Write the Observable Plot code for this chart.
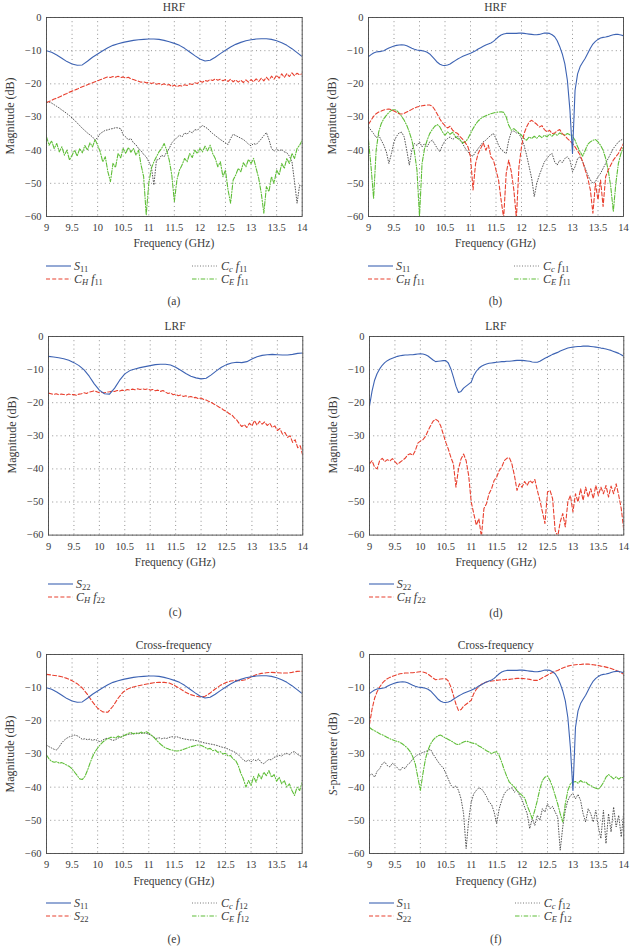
<!DOCTYPE html>
<html><head><meta charset="utf-8">
<script src="https://cdn.jsdelivr.net/npm/d3@7"></script>
<script src="https://cdn.jsdelivr.net/npm/@observablehq/plot@0.6"></script>
<style>
body{margin:0;background:#fff;}
#page{position:relative;width:636px;height:946px;overflow:hidden;background:#fff;font-family:"Liberation Serif","Times New Roman",serif;color:#3a3a3a;}
.abs{position:absolute;white-space:nowrap;line-height:1;}
.ctr{font-size:11.5px;transform:translate(-50%,-50%);}
.yl{font-size:12px;transform:translate(-50%,-50%) rotate(-90deg);}
.lg{font-size:12px;transform:translateY(-50%);}
sub{font-size:8.5px;vertical-align:-2px;line-height:0;}
</style></head><body><div id="page"></div>
<script>
// ---------- axes ----------
const xTicks = [9, 9.5, 10, 10.5, 11, 11.5, 12, 12.5, 13, 13.5, 14];
const yTicks = [0, -10, -20, -30, -40, -50, -60];
// sampling grids (GHz)
const freq10 = d3.range(51).map(i => +(9 + i * 0.1).toFixed(2));
const freq20 = d3.range(101).map(i => +(9 + i * 0.05).toFixed(2));

// ---------- (a) HRF ----------
const s11A = [-10.0,-10.5,-11.3,-12.3,-13.3, -14.0,-14.4,-14.3,-13.2,-12.0,
 -11.0,-10.0,-9.1,-8.4,-7.9, -7.5,-7.2,-6.9,-6.7,-6.6,
 -6.5,-6.5,-6.6,-6.9,-7.3, -7.8,-8.4,-9.3,-10.4,-11.5,
 -12.5,-13.1,-12.9,-12.0,-10.9, -9.9,-8.9,-8.1,-7.5,-7.0,
 -6.7,-6.5,-6.4,-6.4,-6.6, -7.0,-7.6,-8.4,-9.4,-10.6, -11.8];
const chf11A = [-25.6,-25.3,-25.0,-24.6,-24.3,-24.0,-23.6,-23.2,-22.9,-22.5,
 -22.2,-21.9,-21.6,-21.2,-20.9,-20.6,-20.3,-20.0,-19.7,-19.4,
 -19.1,-18.8,-18.5,-18.2,-17.9,-18.1,-17.8,-18.0,-17.7,-18.1,
 -17.9,-18.3,-18.0,-18.5,-18.7,-19.0,-19.2,-19.5,-19.4,-19.7,
 -19.6,-19.9,-19.7,-20.1,-19.9,-20.3,-20.0,-20.4,-20.2,-20.8,
 -20.4,-20.9,-20.5,-20.7,-20.3,-20.5,-20.0,-20.2,-19.7,-19.9,
 -19.2,-19.5,-19.0,-19.2,-18.7,-19.0,-18.5,-18.9,-18.6,-19.1,
 -18.7,-19.3,-18.6,-19.4,-18.8,-19.5,-18.9,-19.6,-18.8,-19.5,
 -18.7,-19.4,-18.5,-19.3,-18.3,-19.1,-18.0,-18.9,-17.7,-18.6,
 -17.4,-18.3,-17.0,-18.1,-16.9,-17.8,-16.7,-17.6,-16.8,-17.3, -17.0];
const ccf11A = [-25.6,-25.5,-25.8,-26.3,-26.8,-27.3,-27.9,-28.4,-29.0,-29.6,
 -30.3,-31.0,-31.8,-32.6,-33.4,-34.1,-34.8,-35.4,-36.0,-37.0,
 -36.2,-35.0,-34.5,-34.0,-33.9,-33.6,-33.5,-33.2,-33.3,-33.5,
 -35.4,-36.0,-36.9,-36.5,-37.8,-38.4,-39.5,-40.2,-41.3,-42.0,
 -43.5,-45.0,-50.5,-43.0,-42.8,-41.5,-42.0,-40.6,-39.5,-37.8,
 -37.0,-36.2,-35.5,-36.0,-34.8,-35.2,-34.3,-34.8,-33.8,-34.0,
 -33.2,-32.6,-33.0,-33.5,-34.3,-35.0,-35.6,-36.2,-36.8,-37.3,
 -37.8,-38.3,-36.5,-35.2,-35.6,-36.0,-36.4,-36.8,-37.4,-38.2,
 -38.7,-38.0,-38.3,-37.5,-36.6,-35.6,-34.7,-36.8,-39.5,-40.3,
 -39.6,-40.2,-39.8,-40.5,-40.8,-41.8,-43.5,-49.5,-56.0,-50.5, -51.0];
const cef11A = [-36.0,-38.5,-37.2,-39.5,-38.0,-40.5,-39.0,-41.5,-40.0,-43.0,
 -41.5,-40.0,-41.8,-39.5,-40.8,-38.6,-40.0,-37.8,-39.0,-36.8,
 -38.5,-40.5,-43.5,-42.0,-46.5,-49.5,-44.0,-45.2,-41.0,-42.3,
 -39.5,-41.0,-39.2,-40.6,-39.5,-41.5,-40.0,-44.5,-48.0,-59.5,
 -50.0,-45.5,-43.5,-42.0,-40.5,-39.5,-38.0,-40.0,-43.0,-47.5,
 -55.5,-49.0,-46.0,-44.5,-42.5,-43.5,-41.0,-42.2,-40.0,-41.0,
 -39.5,-40.5,-38.8,-40.2,-38.5,-41.0,-42.5,-45.0,-43.5,-48.0,
 -46.0,-52.0,-56.0,-49.0,-47.5,-45.5,-46.5,-43.8,-45.0,-42.8,
 -44.0,-42.5,-45.5,-48.5,-53.0,-59.0,-51.0,-52.5,-48.0,-50.0,
 -46.0,-47.5,-44.0,-45.5,-42.5,-44.0,-41.0,-42.5,-39.5,-38.5, -37.0];

// ---------- (b) HRF ----------
const s11B = [-11.8,-11.2,-10.7,-10.4,-10.3,-10.2,-10.0,-9.6,-9.2,-8.9,
 -8.6,-8.4,-8.3,-8.2,-8.3,-8.5,-8.9,-9.3,-9.6,-9.8,
 -9.9,-10.0,-10.2,-10.5,-11.0,-11.8,-12.6,-13.5,-14.1,-14.4,
 -14.5,-14.3,-14.0,-13.5,-13.0,-12.5,-12.1,-11.7,-11.4,-11.1,
 -10.8,-10.4,-10.0,-9.5,-9.1,-8.7,-8.3,-8.0,-7.7,-7.2,
 -6.5,-5.8,-5.3,-5.0,-4.8,-4.8,-4.8,-4.8,-4.8,-4.7,
 -4.7,-4.8,-4.9,-5.0,-5.1,-5.2,-5.2,-5.1,-4.9,-4.7,
 -4.7,-4.8,-5.2,-5.8,-7.0,-8.8,-11.0,-14.0,-19.0,-28.0,
 -41.0,-22.0,-17.0,-14.8,-13.5,-12.3,-10.8,-9.3,-8.0,-7.2,
 -6.6,-6.2,-6.0,-5.9,-5.7,-5.4,-5.2,-5.1,-5.1,-5.3, -5.5];
const chf11B = [-32.2,-31.0,-29.8,-29.0,-28.5,-28.2,-27.9,-27.7,-27.6,-27.8,
 -28.2,-28.6,-29.0,-29.1,-28.9,-28.5,-28.1,-27.7,-27.3,-27.0,
 -26.8,-26.6,-26.5,-26.4,-26.4,-26.7,-27.8,-29.2,-30.6,-31.8,
 -32.6,-33.3,-32.8,-34.0,-34.6,-35.0,-36.0,-36.8,-37.8,-39.0,
 -42.0,-52.0,-44.0,-41.0,-39.5,-37.8,-40.0,-38.5,-42.0,-43.0,
 -46.0,-49.0,-55.0,-60.5,-47.0,-43.0,-46.5,-52.0,-60.5,-45.0,
 -39.0,-35.0,-33.0,-31.5,-31.0,-31.6,-32.2,-33.0,-32.6,-33.8,
 -34.5,-34.0,-35.0,-34.8,-34.2,-33.8,-35.0,-35.6,-36.5,-37.2,
 -38.0,-39.0,-40.2,-41.5,-43.5,-46.0,-48.5,-52.0,-59.0,-50.0,
 -55.0,-49.0,-57.0,-48.0,-46.0,-44.5,-43.0,-42.0,-41.0,-39.5, -38.0];
const ccf11B = [-33.0,-34.0,-35.0,-36.2,-35.5,-37.0,-38.5,-40.5,-44.0,-41.0,
 -37.5,-35.8,-34.8,-34.6,-36.0,-40.0,-44.5,-40.0,-38.0,-38.6,
 -37.5,-39.0,-38.0,-39.0,-37.5,-37.0,-38.2,-39.5,-40.5,-38.5,
 -37.2,-36.5,-36.0,-36.8,-36.2,-35.8,-37.0,-38.2,-39.5,-40.5,
 -41.5,-41.8,-40.5,-39.5,-38.5,-37.5,-37.0,-36.2,-35.5,-35.0,
 -36.5,-38.5,-39.8,-40.5,-41.0,-37.0,-34.5,-34.2,-34.8,-35.0,
 -36.5,-38.5,-41.5,-45.0,-48.5,-54.0,-50.0,-47.5,-45.5,-43.5,
 -42.5,-41.5,-41.0,-43.5,-44.5,-43.0,-43.8,-42.5,-42.0,-43.0,
 -46.5,-45.0,-42.5,-42.0,-43.5,-45.5,-47.5,-49.0,-50.0,-49.5,
 -48.0,-47.0,-45.5,-44.0,-42.5,-41.0,-39.5,-38.5,-37.5,-37.0, -36.5];
const cef11B = [-37.0,-45.0,-54.5,-40.0,-34.5,-32.0,-30.5,-29.5,-28.6,-28.0,
 -27.7,-28.0,-28.8,-29.8,-31.0,-32.5,-34.5,-37.0,-40.5,-46.0,
 -60.0,-44.0,-39.5,-37.0,-35.0,-33.8,-32.8,-32.3,-33.0,-34.5,
 -35.5,-34.5,-35.2,-34.6,-35.8,-36.5,-37.0,-37.8,-37.5,-36.5,
 -35.0,-33.5,-32.2,-31.2,-30.5,-30.0,-29.6,-29.3,-29.0,-28.8,
 -28.6,-28.5,-28.4,-28.6,-30.0,-32.5,-34.0,-33.5,-34.2,-34.8,
 -35.5,-36.5,-37.0,-36.0,-36.5,-35.8,-36.4,-35.6,-36.2,-35.5,
 -36.0,-35.2,-35.8,-35.0,-35.5,-34.8,-35.2,-35.5,-35.0,-35.4,
 -35.8,-37.0,-39.0,-40.5,-41.8,-40.0,-38.2,-37.5,-37.0,-36.8,
 -37.5,-38.5,-40.0,-42.5,-46.0,-51.0,-58.5,-50.0,-44.0,-41.0, -39.0];

// ---------- (c) LRF ----------
const s22C = [-6.0,-6.2,-6.4,-6.7,-7.2, -7.9,-8.8,-10.1,-12.0,-14.3,
 -16.2,-17.3,-17.4,-15.6,-13.2, -11.3,-10.3,-9.8,-9.4,-9.1,
 -8.8,-8.5,-8.4,-8.4,-8.6, -9.3,-10.2,-11.2,-12.0,-12.5,
 -12.8,-12.6,-11.6,-10.4,-9.3, -8.5,-8.0,-7.8,-7.9,-7.6,
 -6.8,-6.1,-5.7,-5.5,-5.4, -5.5,-5.6,-5.6,-5.4,-5.1, -5.0];
const chf22C = [-17.1,-17.3,-17.5,-17.3,-17.6,-17.4,-17.5,-17.7,-17.4,-17.6,
 -17.5,-17.8,-17.4,-17.3,-17.0,-17.2,-16.8,-16.6,-16.4,-16.7,
 -17.0,-16.9,-17.0,-16.8,-16.7,-16.5,-16.6,-16.3,-16.5,-16.2,
 -16.4,-16.0,-16.2,-15.9,-16.1,-15.8,-16.0,-15.8,-16.0,-15.8,
 -16.2,-16.0,-16.4,-16.2,-16.6,-16.3,-16.8,-17.2,-17.0,-17.6,
 -17.4,-17.9,-17.7,-18.1,-17.9,-18.3,-18.1,-18.5,-18.4,-18.8,
 -18.6,-19.0,-19.2,-19.6,-19.9,-20.4,-20.8,-21.3,-21.7,-22.3,
 -22.6,-23.3,-23.6,-24.5,-25.2,-26.3,-27.2,-26.6,-27.5,-26.2,
 -27.0,-25.4,-26.8,-25.6,-26.5,-25.8,-26.9,-26.2,-27.5,-27.0,
 -28.4,-27.8,-29.5,-29.0,-30.5,-30.0,-32.0,-31.2,-33.6,-33.0, -36.0];

// ---------- (d) LRF ----------
const s22D = [-21.0,-16.5,-13.2,-11.2,-9.8,-8.7,-7.9,-7.3,-6.9,-6.6,
 -6.3,-6.0,-5.8,-5.7,-5.6,-5.6,-5.5,-5.5,-5.4,-5.3,
 -5.2,-5.3,-5.5,-5.9,-6.5,-7.1,-7.6,-7.5,-7.4,-7.3,
 -7.3,-8.0,-9.8,-12.3,-15.0,-16.9,-16.6,-15.6,-15.0,-14.4,
 -13.8,-11.8,-10.5,-9.6,-9.0,-8.6,-8.3,-8.1,-8.0,-7.9,
 -7.8,-7.7,-7.6,-7.6,-7.5,-7.5,-7.4,-7.3,-7.2,-7.2,
 -7.2,-7.3,-7.4,-7.5,-7.7,-7.8,-7.8,-7.5,-7.0,-6.6,
 -6.2,-5.8,-5.4,-5.1,-4.8,-4.4,-4.1,-3.8,-3.5,-3.3,
 -3.2,-3.1,-3.0,-3.0,-2.9,-2.9,-2.9,-3.0,-3.1,-3.2,
 -3.3,-3.5,-3.6,-3.8,-4.0,-4.2,-4.5,-4.8,-5.1,-5.5, -6.0];
const chf22D = [-38.5,-37.5,-39.5,-40.0,-37.5,-36.8,-37.8,-37.2,-37.6,-36.9,
 -37.8,-38.6,-38.0,-37.4,-36.8,-35.8,-35.4,-35.9,-34.5,-32.2,
 -31.6,-31.2,-30.2,-28.5,-27.0,-25.6,-25.0,-25.5,-27.0,-29.5,
 -32.0,-34.0,-36.5,-38.5,-45.5,-40.0,-37.0,-35.5,-37.5,-42.0,
 -50.0,-53.5,-57.0,-55.0,-60.5,-52.0,-50.5,-47.5,-46.0,-43.5,
 -42.5,-40.5,-39.5,-37.5,-36.8,-36.6,-38.5,-42.0,-46.5,-44.5,
 -45.5,-43.8,-45.0,-43.5,-44.2,-43.2,-46.5,-49.5,-53.0,-56.5,
 -47.0,-46.5,-49.0,-58.5,-60.5,-56.0,-53.5,-57.5,-50.0,-48.0,
 -53.0,-47.5,-50.0,-46.0,-49.5,-45.5,-48.5,-46.0,-49.0,-45.0,
 -48.0,-45.5,-47.5,-45.0,-48.5,-45.2,-47.5,-44.5,-48.0,-52.0, -58.5];

// ---------- (e) Cross-frequency ----------
const ccf12E = [-27.3,-27.8,-28.2,-28.6,-28.8,-27.8,-26.6,-25.8,-25.2,-24.8,
 -24.6,-24.3,-24.5,-25.0,-25.6,-25.4,-25.7,-25.5,-25.9,-25.6,
 -26.0,-26.3,-25.8,-25.4,-25.2,-25.6,-25.9,-25.7,-25.2,-24.9,
 -24.5,-24.3,-24.1,-24.0,-23.8,-23.9,-23.7,-23.8,-23.6,-23.8,
 -24.0,-24.4,-24.9,-25.3,-25.1,-25.4,-25.2,-25.3,-25.0,-24.8,
 -24.9,-24.8,-25.1,-25.3,-25.5,-25.6,-25.8,-25.7,-25.9,-26.0,
 -26.2,-26.5,-26.7,-26.8,-27.0,-27.1,-27.3,-27.5,-27.8,-28.0,
 -28.2,-28.5,-28.9,-29.2,-29.6,-30.2,-31.0,-31.8,-32.3,-31.8,
 -32.4,-31.7,-32.0,-31.5,-32.6,-32.9,-32.2,-31.6,-31.8,-31.0,
 -30.8,-30.4,-30.6,-30.0,-29.8,-30.2,-29.5,-29.3,-30.0,-30.5, -30.8];
const cef12E = [-30.3,-31.5,-32.2,-32.5,-32.3,-32.8,-32.6,-33.0,-33.4,-33.8,
 -34.5,-35.5,-36.5,-37.5,-37.7,-36.8,-35.0,-32.8,-30.8,-29.3,
 -28.2,-27.2,-26.4,-25.8,-25.4,-25.0,-24.9,-25.2,-24.6,-25.0,
 -24.6,-24.2,-23.8,-23.5,-24.0,-23.6,-23.9,-23.4,-23.8,-23.3,
 -23.7,-24.3,-25.0,-25.8,-26.6,-27.3,-27.9,-28.3,-28.6,-28.8,
 -29.0,-29.1,-29.0,-28.8,-28.5,-28.2,-27.9,-27.7,-27.5,-27.3,
 -27.3,-27.6,-28.0,-28.5,-28.3,-29.0,-28.8,-29.5,-29.3,-30.0,
 -29.8,-30.6,-30.5,-31.5,-32.0,-33.5,-35.8,-37.5,-40.0,-38.0,
 -39.5,-36.8,-38.5,-36.0,-37.5,-35.5,-36.5,-35.0,-37.0,-36.2,
 -38.2,-37.0,-39.0,-38.0,-40.0,-39.0,-41.0,-42.5,-40.0,-41.0, -38.5];

// ---------- (f) Cross-frequency ----------
const ccf12F = [-36.4,-36.0,-37.0,-35.2,-34.4,-33.0,-32.4,-33.5,-33.9,-32.8,
 -33.4,-34.2,-35.0,-34.0,-34.4,-33.2,-32.6,-31.5,-30.8,-30.2,
 -29.9,-29.5,-29.3,-28.9,-28.6,-30.0,-31.2,-32.4,-33.4,-34.2,
 -35.8,-37.6,-39.4,-40.2,-39.6,-41.0,-43.5,-48.0,-58.5,-50.0,
 -44.5,-42.0,-41.0,-40.2,-40.5,-41.5,-42.8,-44.5,-45.2,-47.5,
 -51.0,-46.5,-44.0,-42.0,-41.0,-40.5,-40.2,-41.5,-40.8,-42.5,
 -43.8,-46.0,-48.0,-52.5,-49.5,-51.5,-48.5,-50.0,-46.5,-47.5,
 -45.0,-46.5,-45.8,-47.5,-49.0,-59.0,-52.0,-47.0,-44.0,-42.5,
 -42.0,-43.5,-42.2,-44.0,-48.0,-50.5,-46.5,-48.0,-50.5,-47.0,
 -52.0,-55.5,-47.0,-57.0,-48.0,-53.5,-46.0,-52.0,-48.5,-55.0, -47.5];
const cef12F = [-22.0,-22.6,-23.0,-23.4,-23.9,-24.2,-24.6,-25.0,-25.4,-25.7,
 -26.0,-26.2,-26.5,-27.0,-27.6,-28.3,-29.3,-30.8,-33.0,-37.0,
 -41.0,-36.0,-31.5,-28.8,-27.0,-25.8,-25.0,-24.5,-24.3,-24.8,
 -25.2,-25.6,-26.0,-26.5,-27.0,-27.2,-26.8,-26.4,-26.1,-26.3,
 -26.6,-26.8,-27.0,-27.6,-28.0,-28.5,-29.0,-29.4,-29.9,-29.5,
 -29.3,-30.5,-32.5,-34.8,-36.8,-38.5,-39.2,-40.0,-41.0,-41.8,
 -42.5,-43.2,-45.5,-47.5,-49.5,-47.0,-44.0,-40.5,-38.0,-37.0,
 -36.6,-38.0,-40.0,-42.5,-45.0,-48.0,-50.5,-45.0,-41.0,-39.0,
 -38.5,-38.3,-38.8,-38.0,-38.6,-38.4,-39.2,-39.5,-40.0,-40.3,
 -40.6,-39.8,-38.6,-37.0,-36.2,-36.8,-37.5,-36.9,-37.6,-37.0, -37.2];

// ---------- styles ----------
const STY = {
  s: {stroke: "#3d63b3", strokeWidth: 1.1},
  h: {stroke: "#e8402f", strokeWidth: 1.1, strokeDasharray: "4,2.2"},
  c: {stroke: "#444", strokeWidth: 0.9, strokeDasharray: "0.8,1.9"},
  e: {stroke: "#5fbe38", strokeWidth: 1.1, strokeDasharray: "4.5,1.6,1,1.6"}
};
const LBL = {
  S11: '<i>S</i><sub>11</sub>', S22: '<i>S</i><sub>22</sub>',
  CHf11: '<i>C<sub>H</sub></i> <i>f</i><sub>11</sub>', Ccf11: '<i>C<sub>c</sub></i> <i>f</i><sub>11</sub>',
  CEf11: '<i>C<sub>E</sub></i> <i>f</i><sub>11</sub>', CHf22: '<i>C<sub>H</sub></i> <i>f</i><sub>22</sub>',
  Ccf12: '<i>C<sub>c</sub></i> <i>f</i><sub>12</sub>', CEf12: '<i>C<sub>E</sub></i> <i>f</i><sub>12</sub>'
};

const panels = [
  {l:46, t:16.7, r:301.7, b:215.7, title:"HRF", ylab:"Magnitude (dB)", cap:"(a)", capDy:86,
   series:[["c",freq20,ccf11A],["e",freq20,cef11A],["h",freq20,chf11A],["s",freq10,s11A]],
   legL:[["s","S11"],["h","CHf11"]], legR:[["c","Ccf11"],["e","CEf11"]]},
  {l:368, t:16.7, r:623, b:215.7, title:"HRF", ylab:"Magnitude (dB)", cap:"(b)", capDy:86,
   series:[["c",freq20,ccf11B],["e",freq20,cef11B],["h",freq20,chf11B],["s",freq20,s11B]],
   legL:[["s","S11"],["h","CHf11"]], legR:[["c","Ccf11"],["e","CEf11"]]},
  {l:48, t:335.7, r:302.3, b:534.3, title:"LRF", ylab:"Magnitude (dB)", cap:"(c)", capDy:79,
   series:[["h",freq20,chf22C],["s",freq10,s22C]],
   legL:[["s","S22"],["h","CHf22"]], legR:[]},
  {l:368.7, t:335.7, r:623, b:534.3, title:"LRF", ylab:"Magnitude (dB)", cap:"(d)", capDy:80,
   series:[["h",freq20,chf22D],["s",freq20,s22D]],
   legL:[["s","S22"],["h","CHf22"]], legR:[]},
  {l:46, t:654.3, r:301.7, b:853.3, title:"Cross-frequency", ylab:"Magnitude (dB)", cap:"(e)", capDy:86.5,
   series:[["c",freq20,ccf12E],["e",freq20,cef12E],["h",freq10,s22C],["s",freq10,s11A]],
   legL:[["s","S11"],["h","S22"]], legR:[["c","Ccf12"],["e","CEf12"]]},
  {l:368.7, t:654.3, r:623, b:853.3, title:"Cross-frequency", ylab:'<i>S</i>-parameter (dB)', cap:"(f)", capDy:86.5,
   series:[["c",freq20,ccf12F],["e",freq20,cef12F],["h",freq20,s22D],["s",freq20,s11B]],
   legL:[["s","S11"],["h","S22"]], legR:[["c","Ccf12"],["e","CEf12"]]}
];

const page = document.getElementById("page");
function addDiv(cls, x, y, html) {
  const d = document.createElement("div");
  d.className = "abs " + cls;
  d.style.left = x + "px"; d.style.top = y + "px";
  d.innerHTML = html;
  page.appendChild(d);
  return d;
}
function sample(k, x, y, w) {
  const ns = "http://www.w3.org/2000/svg";
  const svg = document.createElementNS(ns, "svg");
  svg.setAttribute("width", w); svg.setAttribute("height", 6);
  svg.style.position = "absolute"; svg.style.left = x + "px"; svg.style.top = (y - 3) + "px";
  const ln = document.createElementNS(ns, "line");
  ln.setAttribute("x1", 0); ln.setAttribute("x2", w); ln.setAttribute("y1", 3); ln.setAttribute("y2", 3);
  const s = STY[k];
  ln.setAttribute("stroke", s.stroke); ln.setAttribute("stroke-width", s.strokeWidth);
  if (s.strokeDasharray) ln.setAttribute("stroke-dasharray", s.strokeDasharray);
  svg.appendChild(ln);
  page.appendChild(svg);
}

const mL = 45, mR = 10, mT = 10, mB = 22;
for (const p of panels) {
  const W = p.r - p.l, H = p.b - p.t;
  const marks = [
    Plot.ruleX(xTicks, {stroke: "#777", strokeWidth: 0.8, strokeDasharray: "1,3.2"}),
    Plot.ruleY(yTicks, {stroke: "#777", strokeWidth: 0.8, strokeDasharray: "1,3.2"}),
    ...p.series.map(([k, xs, ys]) =>
      Plot.line(xs.map((x, i) => ({x, y: ys[i]})), {x: "x", y: "y", ...STY[k], clip: true})),
    Plot.frame({stroke: "#444", strokeWidth: 0.9})
  ];
  const chart = Plot.plot({
    width: W + mL + mR, height: H + mT + mB,
    marginLeft: mL, marginRight: mR, marginTop: mT, marginBottom: mB,
    style: {fontFamily: '"Liberation Serif", serif', fontSize: "10.5px", color: "#3a3a3a", background: "transparent", overflow: "visible"},
    x: {domain: [9, 14], ticks: xTicks, tickSize: 0, tickPadding: 7.5, label: null, tickFormat: d => String(d)},
    y: {domain: [-60, 0], ticks: yTicks, tickSize: 0, tickPadding: 5, label: null,
        tickFormat: d => d < 0 ? "\u2212" + (-d) : String(d)},
    marks
  });
  chart.style.position = "absolute";
  chart.style.left = (p.l - mL) + "px";
  chart.style.top = (p.t - mT) + "px";
  page.appendChild(chart);

  const cx = (p.l + p.r) / 2;
  addDiv("ctr", cx, p.t - 8.5, p.title);
  addDiv("ctr", cx, p.b + 28.5, "Frequency (GHz)");
  addDiv("yl", p.l - 36, (p.t + p.b) / 2, p.ylab);
  addDiv("ctr", cx, p.b + p.capDy, p.cap);
  p.legL.forEach(([k, key], i) => {
    const y = p.b + 50 + i * 13;
    sample(k, p.l, y, 25);
    addDiv("lg", p.l + 28, y, LBL[key]);
  });
  p.legR.forEach(([k, key], i) => {
    const y = p.b + 50 + i * 13;
    sample(k, p.l + 146, y, 25);
    addDiv("lg", p.l + 175, y, LBL[key]);
  });
}
</script></body></html>
